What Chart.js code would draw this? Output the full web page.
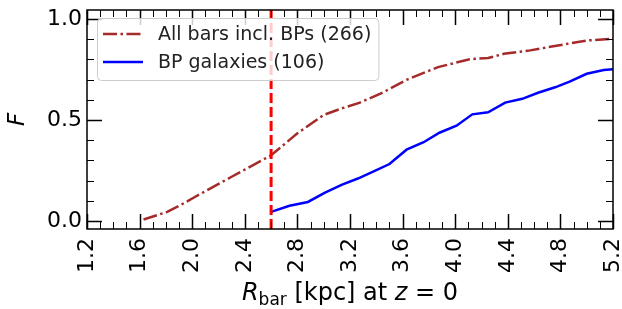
<!DOCTYPE html>
<html>
<head>
<meta charset="utf-8">
<script src="https://cdn.jsdelivr.net/npm/chart.js@4/dist/chart.umd.min.js"></script>
<style>
  html, body { margin: 0; padding: 0; background: #fff; }
  #wrap { width: 622px; height: 309px; }
</style>
</head>
<body>
<div id="wrap"><canvas id="fracChart" width="622" height="309"></canvas></div>
<script>
// ---- data ----
const allBarsR = [1.63, 1.81, 1.91, 2.01, 2.30, 2.60, 2.80, 3.00, 3.14, 3.27, 3.44, 3.63, 3.87, 4.11, 4.25, 4.37, 4.57, 4.77, 5.00, 5.20];
const allBarsF = [0.007, 0.045, 0.078, 0.115, 0.219, 0.325, 0.434, 0.525, 0.558, 0.585, 0.633, 0.699, 0.762, 0.801, 0.807, 0.828, 0.845, 0.868, 0.894, 0.902];

const bpR = [2.60, 2.74, 2.88, 3.01, 3.14, 3.26, 3.38, 3.50, 3.63, 3.76, 3.88, 4.01, 4.13, 4.25, 4.38, 4.51, 4.63, 4.76, 4.87, 5.00, 5.13, 5.20];
const bpF = [0.045, 0.075, 0.094, 0.140, 0.180, 0.210, 0.245, 0.282, 0.353, 0.390, 0.437, 0.472, 0.528, 0.538, 0.586, 0.605, 0.635, 0.662, 0.690, 0.729, 0.748, 0.752];

const seriesLabels = ['All bars incl. BPs (266)', 'BP galaxies (106)'];
const xTicks = [1.2, 1.6, 2.0, 2.4, 2.8, 3.2, 3.6, 4.0, 4.4, 4.8, 5.2];
const yTicks = [0.0, 0.5, 1.0];
const bpThreshold = 2.6; // vertical dashed line

const FONT = "'DejaVu Sans', sans-serif";

const toPoints = (xs, ys) => xs.map((x, i) => ({ x: x, y: ys[i] }));

// inward ticks on all four sides + top/right spines
const frameTicks = {
    id: 'frameTicks',
    afterDraw(chart) {
        const { ctx, chartArea: a, scales } = chart;
        const xs = scales.x, ys = scales.y;
        ctx.save();
        ctx.strokeStyle = '#000';

        const tick = (len, lw, vals, horiz) => {
            ctx.lineWidth = lw;
            vals.forEach(v => {
                ctx.beginPath();
                if (horiz) {
                    const p = Math.round(xs.getPixelForValue(v)) + 0.5;
                    ctx.moveTo(p, a.bottom); ctx.lineTo(p, a.bottom - len);
                    ctx.moveTo(p, a.top); ctx.lineTo(p, a.top + len);
                } else {
                    const p = Math.round(ys.getPixelForValue(v)) + 0.5;
                    ctx.moveTo(a.left, p); ctx.lineTo(a.left + len, p);
                    ctx.moveTo(a.right, p); ctx.lineTo(a.right - len, p);
                }
                ctx.stroke();
            });
        };

        const xMinor = [], yMinor = [];
        for (let i = 12; i <= 52; i++) if (i % 4 !== 0) xMinor.push(i / 10);
        for (let i = 1; i <= 9; i++) if (i !== 5) yMinor.push(i / 10);

        tick(15, 1.5, xTicks, true);
        tick(7, 1, xMinor, true);
        tick(15, 1.5, yTicks, false);
        tick(7, 1, yMinor, false);

        ctx.lineWidth = 1.5;
        ctx.strokeRect(a.left, a.top, a.right - a.left, a.bottom - a.top);
        ctx.restore();
    }
};

// dashed vertical line at the BP threshold
const thresholdLine = {
    id: 'thresholdLine',
    afterDatasetsDraw(chart) {
        const { ctx, chartArea: a, scales } = chart;
        const px = scales.x.getPixelForValue(bpThreshold);
        ctx.save();
        ctx.strokeStyle = '#ff0000';
        ctx.lineWidth = 3;
        ctx.setLineDash([10, 4]);
        ctx.beginPath();
        ctx.moveTo(px, a.bottom);
        ctx.lineTo(px, a.top);
        ctx.stroke();
        ctx.restore();
    }
};

// matplotlib-like legend box in the upper left of the axes
const boxLegend = {
    id: 'boxLegend',
    afterDraw(chart) {
        const { ctx, chartArea: a } = chart;
        const dsets = chart.data.datasets;
        ctx.save();
        ctx.font = '19px ' + FONT;
        const textW = Math.max(...dsets.map(d => ctx.measureText(d.label).width));
        const left = a.left + 10, top = a.top + 8;
        const w = 61 + textW + 7, h = 62;

        ctx.fillStyle = 'rgba(255,255,255,0.8)';
        ctx.strokeStyle = '#cccccc';
        ctx.lineWidth = 1;
        ctx.beginPath();
        ctx.roundRect(left + 0.5, top + 0.5, w, h, 4);
        ctx.fill();
        ctx.stroke();

        dsets.forEach((d, i) => {
            const cy = top + 16 + i * 28;
            ctx.strokeStyle = d.borderColor;
            ctx.lineWidth = d.borderWidth;
            ctx.setLineDash(d.borderDash || []);
            ctx.beginPath();
            ctx.moveTo(left + 6, cy);
            ctx.lineTo(left + 46, cy);
            ctx.stroke();
            ctx.setLineDash([]);
            ctx.fillStyle = '#222';
            ctx.textBaseline = 'middle';
            ctx.textAlign = 'left';
            ctx.fillText(d.label, left + 61, cy + 1);
        });
        ctx.restore();
    }
};

// axis titles with italic symbols and subscript
const axisTitles = {
    id: 'axisTitles',
    afterDraw(chart) {
        const { ctx, chartArea: a } = chart;
        ctx.save();
        ctx.fillStyle = '#000';
        ctx.textBaseline = 'alphabetic';
        ctx.textAlign = 'left';

        const parts = [
            { t: 'R', f: 'italic 24px ' + FONT, dy: 0 },
            { t: 'bar', f: '17px ' + FONT, dy: 5 },
            { t: ' [kpc] at ', f: '24px ' + FONT, dy: 0 },
            { t: 'z', f: 'italic 24px ' + FONT, dy: 0 },
            { t: ' = 0', f: '24px ' + FONT, dy: 0 }
        ];
        let total = 0;
        parts.forEach(p => { ctx.font = p.f; p.w = ctx.measureText(p.t).width; total += p.w; });
        let x = (a.left + a.right) / 2 - total / 2;
        const base = 300;
        parts.forEach(p => {
            ctx.font = p.f;
            ctx.fillText(p.t, x, base + p.dy);
            x += p.w;
        });

        ctx.translate(18, (a.top + a.bottom) / 2);
        ctx.rotate(-Math.PI / 2);
        ctx.textAlign = 'center';
        ctx.textBaseline = 'middle';
        ctx.font = 'italic 23px ' + FONT;
        ctx.fillText('F', 0, 0);
        ctx.restore();
    }
};

new Chart(document.getElementById('fracChart'), {
    type: 'line',
    data: {
        datasets: [{
            label: seriesLabels[0],
            data: toPoints(allBarsR, allBarsF),
            borderColor: '#a52a2a',
            borderWidth: 2.5,
            borderDash: [14, 3.5, 2.5, 3.5],
            pointRadius: 0,
            fill: false,
            tension: 0
        }, {
            label: seriesLabels[1],
            data: toPoints(bpR, bpF),
            borderColor: '#0000ff',
            borderWidth: 2.5,
            pointRadius: 0,
            fill: false,
            tension: 0
        }]
    },
    options: {
        responsive: false,
        animation: false,
        devicePixelRatio: 1,
        layout: { padding: { top: 10, right: 9, left: 0, bottom: 0 } },
        plugins: {
            legend: { display: false },
            tooltip: { enabled: false }
        },
        scales: {
            x: {
                type: 'linear',
                min: 1.2,
                max: 5.2,
                grid: { display: false, drawTicks: false },
                border: { display: false },
                afterBuildTicks: s => { s.ticks = xTicks.map(v => ({ value: v })); },
                afterFit: s => { s.height = 80; s.paddingLeft = 0; s.paddingRight = 0; },
                ticks: {
                    autoSkip: false,
                    minRotation: 90,
                    maxRotation: 90,
                    padding: 9,
                    color: '#000',
                    font: { family: FONT, size: 22 },
                    callback: v => v.toFixed(1)
                }
            },
            y: {
                min: -0.04,
                max: 1.045,
                grid: { display: false, drawTicks: false },
                border: { display: false },
                afterBuildTicks: s => { s.ticks = yTicks.map(v => ({ value: v })); },
                afterFit: s => { s.width = 87; s.paddingTop = 0; s.paddingBottom = 0; },
                ticks: {
                    padding: 5,
                    color: '#000',
                    font: { family: FONT, size: 22 },
                    callback: v => v.toFixed(1)
                }
            }
        }
    },
    plugins: [thresholdLine, frameTicks, boxLegend, axisTitles]
});
</script>
</body>
</html>
